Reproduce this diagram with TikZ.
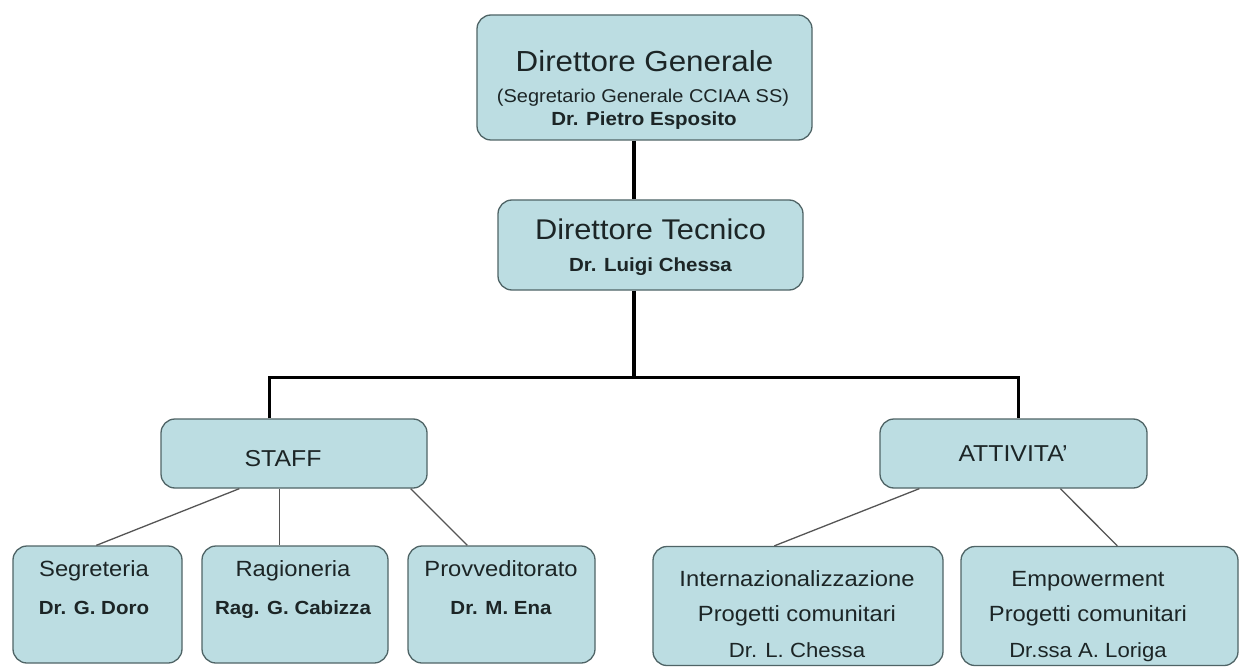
\documentclass[tikz,border=0pt]{standalone}
\usepackage{fontspec}
\setmainfont[FakeStretch=1.08]{Liberation Sans}
\usetikzlibrary{calc}
\definecolor{boxfill}{HTML}{BCDDE2}
\definecolor{boxline}{HTML}{4F6466}
\definecolor{linkgray}{HTML}{555555}
\definecolor{ink}{HTML}{1C2526}
\begin{document}
\begin{tikzpicture}[x=1pt,y=-1pt,
  box/.style={draw=boxline, fill=boxfill, line width=1.3pt, rounded corners=14pt, inner sep=0pt},
  txt/.style={inner sep=0pt, anchor=base, text=ink},
  ftitle/.style={font=\fontsize{29}{31}\selectfont},
  ftitleb/.style={font=\fontsize{28.5}{30}\selectfont},
  fsub/.style={font=\fontsize{18.5}{20}\selectfont},
  fbold/.style={font=\fontsize{19}{20}\selectfont\bfseries},
  fmid/.style={font=\fontsize{23}{25}\selectfont},
  fbot/.style={font=\fontsize{22}{24}\selectfont},
  fbotb/.style={font=\fontsize{19}{21}\selectfont\bfseries},
  fname/.style={font=\fontsize{20.5}{22}\selectfont},
  trunk/.style={line width=3.2pt, black, line join=miter},
  branch/.style={line width=1.3pt, linkgray}]
\useasboundingbox (0,0) rectangle (1241,668);
\fill[white] (0,0) rectangle (1241,668);

% boxes
\node[box, minimum width=335pt, minimum height=125pt] (dg) at (644.5,77.5) {};
\node[box, minimum width=305pt, minimum height=90pt] (dt) at (650.5,245) {};
\node[box, minimum width=266pt, minimum height=69pt] (staff) at (294,453.5) {};
\node[box, minimum width=267pt, minimum height=69pt] (att) at (1013.5,453.5) {};
\node[box, minimum width=169pt, minimum height=117pt] (seg) at (97.5,604.5) {};
\node[box, minimum width=186pt, minimum height=117pt] (rag) at (295,604.5) {};
\node[box, minimum width=187pt, minimum height=117pt] (prov) at (501.5,604.5) {};
\node[box, minimum width=290pt, minimum height=119pt] (int) at (798,606) {};
\node[box, minimum width=277pt, minimum height=119pt] (emp) at (1099.5,606) {};

% texts
\node[txt, ftitle] (dg1) at (644.5,72) {Direttore Generale};
\node[txt, fsub] (dg2) at (643,102.5) {(Segretario Generale CCIAA SS)};
\node[txt, fbold] (dg3) at (644,125.5) {Dr. Pietro Esposito};
\node[txt, ftitleb] (dt1) at (650.5,240) {Direttore Tecnico};
\node[txt, fbold] (dt2) at (650.5,271.5) {Dr. Luigi Chessa};
\node[txt, fmid] (st1) at (283,466) {STAFF};
\node[txt, fmid] (at1) at (1013,461.5) {ATTIVITA'};
\node[txt, fbot] (sg1) at (94,576) {Segreteria};
\node[txt, fbotb] (sg2) at (94,614) {Dr. G. Doro};
\node[txt, fbot] (rg1) at (293,576) {Ragioneria};
\node[txt, fbotb] (rg2) at (293,614) {Rag. G. Cabizza};
\node[txt, fbot] (pv1) at (501,576) {Provveditorato};
\node[txt, fbotb] (pv2) at (501,614) {Dr. M. Ena};
\node[txt, fbot] (in1) at (797,586) {Internazionalizzazione};
\node[txt, fbot] (in2) at (797,621) {Progetti comunitari};
\node[txt, fname] (in3) at (797,657.5) {Dr. L. Chessa};
\node[txt, fbot] (em1) at (1088,586) {Empowerment};
\node[txt, fbot] (em2) at (1088,621) {Progetti comunitari};
\node[txt, fname] (em3) at (1088,657.5) {Dr.ssa A. Loriga};

% trunk connectors
\draw[trunk] ($(dg.south)+(-10.5,0)$) -- ($(dt.north)+(-16.5,0)$);
\draw[trunk] ($(dt.south)+(-16.5,0)$) -- ++(0,87) coordinate (j);
\draw[trunk] ($(staff.north west)+(109,0)$) |- (j) -| ($(att.north west)+(139,0)$);

% branch connectors
\draw[branch] ($(staff.south west)+(79,0)$) -- ($(seg.north west)+(84,0)$);
\draw[branch] ($(staff.south west)+(119,0)$) -- ($(rag.north west)+(78,0)$);
\draw[branch] ($(staff.south east)+(-17,0)$) -- ($(prov.north west)+(60,0)$);
\draw[branch] ($(att.south west)+(40,0)$) -- ($(int.north west)+(122,0)$);
\draw[branch] ($(att.south west)+(181,0)$) -- ($(emp.north west)+(157,0)$);
\end{tikzpicture}
\end{document}
